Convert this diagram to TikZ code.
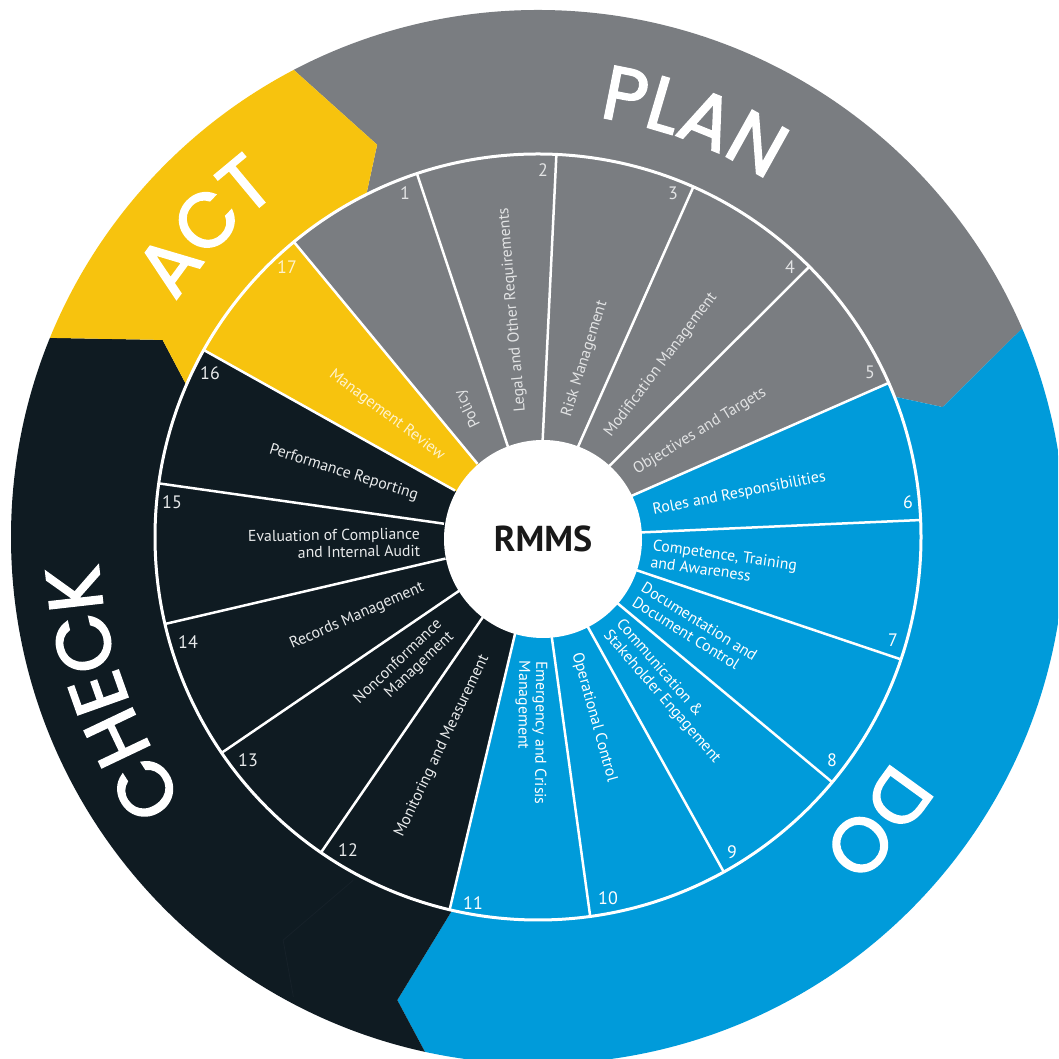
\documentclass[tikz,border=0pt]{standalone}
\usepackage{fontspec}
\setmainfont{PT Sans}
\newfontfamily\phasefont{Poppins}[FakeBold=2.2]
\usetikzlibrary{calc,decorations.text}
\definecolor{pgray}{RGB}{122,125,129}
\definecolor{pblue}{RGB}{0,155,218}
\definecolor{pblack}{RGB}{15,27,34}
\definecolor{pyellow}{RGB}{247,195,14}
\definecolor{tgray}{RGB}{226,227,228}
\definecolor{tblack}{RGB}{232,234,235}
\definecolor{tyellow}{RGB}{255,243,205}
\definecolor{ghost}{RGB}{22,33,41}
\newcommand\phasesize{\phasefont\fontsize{76}{76}\selectfont}
\begin{document}
\begin{tikzpicture}[x=1pt,y=1pt,
  lab/.style={font=\fontsize{15.8}{17}\selectfont, inner sep=0pt},
  num/.style={font=\fontsize{18}{18}\selectfont, inner sep=0pt},
  spoke/.style={white, line width=2.5pt},
  phase/.style={decorate, decoration={text along path, text align=center, text color=white, text={|\phasesize|#1}}}
]
\useasboundingbox (0,0) rectangle (1058,1059);
\clip (0,0) rectangle (1058,1059);
\coordinate (C) at (538,522);
% phase boundaries (outer point, tip, inner point)
\coordinate (apO) at ($(C)+(117.6:527)$);
\coordinate (apT) at ($(C)+(112.3:424)$);
\coordinate (apI) at ($(C)+(117.0:380)$);
\coordinate (pdO) at ($(C)+(23.3:527)$);
\coordinate (pdT) at ($(C)+(17.8:425)$);
\coordinate (pdI) at ($(C)+(21.8:380)$);
\coordinate (dcO) at ($(C)+(-102.4:527)$);
\coordinate (dcT) at ($(C)+(-106.9:484)$);
\coordinate (dcI) at ($(C)+(-102.8:380)$);
\coordinate (caO) at ($(C)+(157.8:527)$);
\coordinate (caT) at ($(C)+(152.3:424)$);
\coordinate (caI) at ($(C)+(157.0:380)$);
% outer ring
\begin{scope}
\clip (C) circle[radius=527];
\fill[pgray] (apI) -- (apT) -- ($(apT)!3!(apO)$) -- ($(C)+(90:800)$) -- ($(C)+(55:800)$) -- ($(pdT)!3!(pdO)$) -- (pdT) -- (pdI) -- (C) -- cycle;
\fill[pblue] (pdI) -- (pdT) -- ($(pdT)!3!(pdO)$) -- ($(C)+(0:800)$) -- ($(C)+(-40:800)$) -- ($(C)+(-80:800)$) -- ($(dcT)!3!(dcO)$) -- (dcT) -- (dcI) -- (C) -- cycle;
\fill[pblack] (dcI) -- (dcT) -- ($(dcT)!3!(dcO)$) -- ($(C)+(-130:800)$) -- ($(C)+(-170:800)$) -- ($(caT)!3!(caO)$) -- (caT) -- (caI) -- (C) -- cycle;
\fill[pyellow] (caI) -- (caT) -- ($(caT)!3!(caO)$) -- ($(C)+(140:800)$) -- ($(apT)!3!(apO)$) -- (apT) -- (apI) -- (C) -- cycle;
\draw[ghost, line width=0.8pt] ($(C)+(-118.3:390)$) -- ($(C)+(-122.3:477)$) -- ($(C)+(-118:521)$);
\end{scope}
% phase titles
\path[phase=PLAN] ($(C)+(109.5:424)$) arc[start angle=109.5, end angle=29.5, radius=424];
\path[phase=DO] ($(C)+(0:419)$) arc[start angle=0, end angle=-80, radius=419];
\path[phase=CHECK] ($(C)+(-115:440)$) arc[start angle=-115, end angle=-205, radius=440];
\path[phase=ACT] ($(C)+(177:432)$) arc[start angle=177, end angle=97, radius=432];
% wheel sectors
\foreach \k/\col in {1/pgray,2/pgray,3/pgray,4/pgray,5/pgray,6/pblue,7/pblue,8/pblue,9/pblue,10/pblue,11/pblue,12/pblack,13/pblack,14/pblack,15/pblack,16/pblack,17/pyellow}{
  \pgfmathsetmacro\a{129.6-(\k-1)*360/17}
  \pgfmathsetmacro\b{129.6-\k*360/17}
  \fill[\col] (C) -- ($(C)+(\a:383)$) arc[start angle=\a, end angle=\b, radius=383] -- cycle;
}
\foreach \k in {0,...,16}{
  \pgfmathsetmacro\a{129.6-\k*360/17}
  \draw[spoke] ($(C)+(\a:95)$) -- ($(C)+(\a:383)$);
}
\draw[white, line width=3pt] (C) circle[radius=383];
% hub
\node[circle, fill=white, minimum size=198pt, inner sep=0pt, text=black!90, font=\bfseries\fontsize{36}{36}\selectfont] (hub) at (543,520) {RMMS};
% numbers
\node[num, text=tgray] (n1) at (405,866) {1};
\node[num, text=tgray] (n2) at (543,889) {2};
\node[num, text=tgray] (n3) at (673,866) {3};
\node[num, text=tgray] (n4) at (790,792) {4};
\node[num, text=tgray] (n5) at (870,687) {5};
\node[num, text=white] (n6) at (908,557) {6};
\node[num, text=white] (n7) at (893,419) {7};
\node[num, text=white] (n8) at (832,299) {8};
\node[num, text=white] (n9) at (732,207) {9};
\node[num, text=white] (n10) at (608,161) {10};
\node[num, text=white] (n11) at (473,156) {11};
\node[num, text=tblack] (n12) at (348,209) {12};
\node[num, text=tblack] (n13) at (248,299) {13};
\node[num, text=tblack] (n14) at (188,417) {14};
\node[num, text=tblack] (n15) at (172,557) {15};
\node[num, text=tblack] (n16) at (210,686) {16};
\node[num, text=tyellow] (n17) at (287,792) {17};
% labels
\node[lab, text=tgray, rotate=116, anchor=west] (l1) at ($(C)+(119:126)$) {Policy};
\node[lab, text=tgray, rotate=94.7, anchor=west] (l2) at ($(C)+(97.8:126)$) {Legal and Other Requirements};
\node[lab, text=tgray, rotate=72.5, anchor=west] (l3) at ($(C)+(76.6:124)$) {Risk Management};
\node[lab, text=tgray, rotate=53, anchor=west] (l4) at ($(C)+(55.4:123)$) {Modification Management};
\node[lab, text=tgray, rotate=31.5, anchor=west] (l5) at ($(C)+(34.2:117)$) {Objectives and Targets};
\node[lab, text=white, rotate=11, anchor=west] (l6) at ($(C)+(13:118)$) {Roles and Responsibilities};
\node[lab, text=white, rotate=-8, anchor=west, align=left] (l7) at ($(C)+(-8.1:115)$) {Competence, Training\\and Awareness};
\node[lab, text=white, rotate=-32, anchor=west, align=left] (l8) at ($(C)+(-29.3:115)$) {Documentation and\\Document Control};
\node[lab, text=white, rotate=-49, anchor=west, align=left] (l9) at ($(C)+(-50.5:117)$) {Communication \&\\Stakeholder Engagement};
\node[lab, text=white, rotate=-74.5, anchor=west] (l10) at ($(C)+(-71.7:122)$) {Operational Control};
\node[lab, text=white, rotate=-90.5, anchor=west, align=left] (l11) at ($(C)+(-92.9:124)$) {Emergency and Crisis\\Management};
\node[lab, text=tblack, rotate=64.5, anchor=east] (l12) at ($(C)+(-114:130)$) {Monitoring and Measurement};
\node[lab, text=tblack, rotate=43.5, anchor=east, align=right] (l13) at ($(C)+(-135.2:130)$) {Nonconformance\\Management};
\node[lab, text=tblack, rotate=23.7, anchor=east] (l14) at ($(C)+(-156.4:125)$) {Records Management};
\node[lab, text=tblack, rotate=1, anchor=east, align=right] (l15) at ($(C)+(182.4:118)$) {Evaluation of Compliance\\and Internal Audit};
\node[lab, text=tblack, rotate=-17.5, anchor=east] (l16) at ($(C)+(161.2:127)$) {Performance Reporting};
\node[lab, text=tyellow, rotate=-37, anchor=east] (l17) at ($(C)+(140:124)$) {Management Review};
\end{tikzpicture}
\end{document}
